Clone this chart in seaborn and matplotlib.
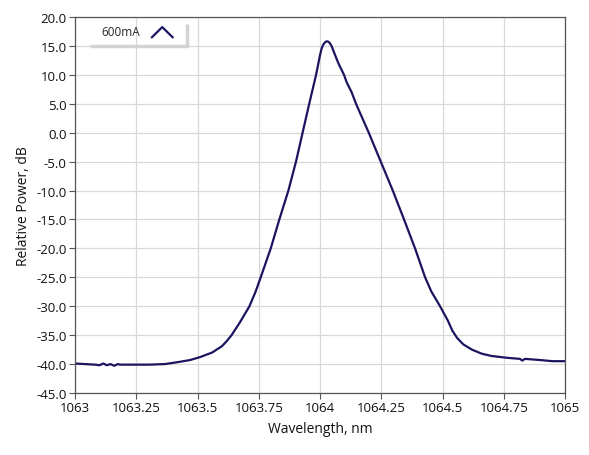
import matplotlib
matplotlib.use("Agg")
import matplotlib.pyplot as plt
from matplotlib.lines import Line2D
from matplotlib.legend_handler import HandlerBase
import pandas as pd
import seaborn as sns

# spectrum (wavelength nm, relative power dB)
wavelength = [1063.000, 1063.040, 1063.082, 1063.100, 1063.115, 1063.130, 1063.145,
              1063.160, 1063.175, 1063.184, 1063.250, 1063.300, 1063.367, 1063.429,
              1063.470, 1063.510, 1063.560, 1063.600, 1063.620, 1063.639, 1063.673,
              1063.712, 1063.737, 1063.758, 1063.799, 1063.834, 1063.871, 1063.902,
              1063.929, 1063.956, 1063.984, 1064.000, 1064.007, 1064.013, 1064.020,
              1064.027, 1064.033, 1064.040, 1064.047, 1064.060, 1064.075, 1064.098,
              1064.109, 1064.129, 1064.147, 1064.199, 1064.248, 1064.297, 1064.343,
              1064.388, 1064.429, 1064.455, 1064.490, 1064.522, 1064.540, 1064.560,
              1064.585, 1064.620, 1064.660, 1064.700, 1064.760, 1064.816, 1064.826,
              1064.836, 1064.898, 1064.950, 1065.000]
power_db = [-39.9, -40.0, -40.1, -40.2, -39.9, -40.2, -40.0,
            -40.3, -40.0, -40.1, -40.1, -40.1, -40.0, -39.6,
            -39.3, -38.8, -38.0, -36.9, -36.0, -35.0, -32.8,
            -30.0, -27.5, -25.0, -20.0, -15.0, -10.0, -5.0,
            0.0, 5.0, 10.0, 13.4, 14.6, 15.2, 15.6,
            15.8, 15.75, 15.5, 15.0, 13.6, 12.0, 10.0,
            8.7, 7.0, 5.0, 0.0, -5.0, -10.0, -15.0,
            -20.0, -25.0, -27.5, -30.0, -32.5, -34.2, -35.5,
            -36.6, -37.5, -38.2, -38.6, -38.9, -39.1, -39.4,
            -39.1, -39.3, -39.5, -39.5]

x_ticks = [1063, 1063.25, 1063.5, 1063.75, 1064, 1064.25, 1064.5, 1064.75, 1065]
y_ticks = [-45, -40, -35, -30, -25, -20, -15, -10, -5, 0, 5, 10, 15, 20]

LINE = "#1b1560"

sns.set_theme(style="whitegrid")
plt.rcParams["font.family"] = ["Open Sans", "DejaVu Sans"]
plt.rcParams["axes.unicode_minus"] = False

df = pd.DataFrame({"wl": wavelength, "db": power_db, "run": "600mA"})

fig = plt.figure(figsize=(5.89, 4.56), dpi=100)
ax = fig.add_axes([75 / 589, 1 - 394 / 456, 490 / 589, 376 / 456])
sns.lineplot(data=df, x="wl", y="db", ax=ax, color=LINE, linewidth=1.6,
             estimator=None, sort=False, legend=False,
             solid_joinstyle="round", solid_capstyle="round")

ax.set_xlim(1063, 1065)
ax.set_ylim(-45, 20)
ax.set_xticks(x_ticks)
ax.set_xticklabels([f"{v:g}" for v in x_ticks])
ax.set_yticks(y_ticks)
ax.set_yticklabels([f"{v:.1f}" for v in y_ticks])
ax.grid(True, color="#d8d8d8", linewidth=0.9)
for s in ax.spines.values():
    s.set_color("#555555")
    s.set_linewidth(0.9)
ax.tick_params(axis="both", direction="out", length=4, width=0.8, color="#555555",
               labelsize=9.5, labelcolor="#111111", pad=2, bottom=True, left=True)
ax.set_xlabel("Wavelength, nm", fontsize=10, color="#111111", labelpad=5)
ax.set_ylabel("Relative Power, dB", fontsize=10, color="#111111", labelpad=4)


class ChevronHandler(HandlerBase):
    def create_artists(self, legend, orig_handle, xdescent, ydescent, width, height,
                       fontsize, trans):
        w, h = width, height
        ln = Line2D([0.03 * w, 0.5 * w, 0.97 * w], [-0.25 * h, 1.0 * h, -0.25 * h],
                    color=LINE, linewidth=1.6, transform=trans)
        return [ln]


handle = Line2D([], [], color=LINE)
leg = ax.legend([handle], ["600mA"], loc="upper left", bbox_to_anchor=(0.033, 1.006),
                handler_map={Line2D: ChevronHandler()}, fontsize=8.5, frameon=False,
                handlelength=1.9, handletextpad=0.9, markerfirst=False)

# gray underline / right edge of the legend box
ax.plot([0.031, 0.2286, 0.2286], [0.924, 0.924, 0.981], transform=ax.transAxes,
        color="#d3d3d3", linewidth=2.5, solid_capstyle="butt", clip_on=False)

fig.savefig("out.png", dpi=100)
